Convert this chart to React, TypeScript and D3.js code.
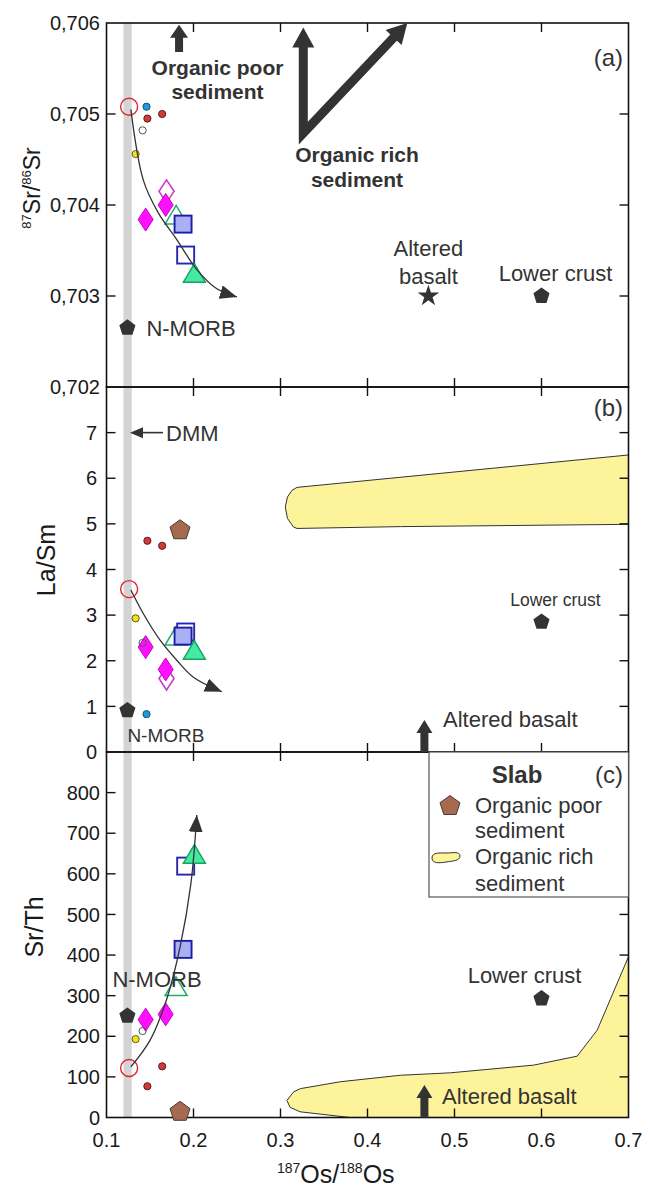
import { useEffect, useRef } from 'react';
import * as d3 from 'd3';

// ---- samples (same order in every array) ----
const sampleKinds = ['diamondOpen', 'diamond', 'diamond', 'triOpen', 'squareOpen', 'square', 'tri', 'dotRed', 'dotRed', 'dotBlue', 'dotYellow', 'dotOpen', 'circleRed'];
const sampleOs = [0.169, 0.168, 0.145, 0.180, 0.191, 0.188, 0.201, 0.147, 0.164, 0.146, 0.1335, 0.1415, 0.126];
const sampleSr = [0.70415, 0.7040, 0.70384, 0.70388, 0.70345, 0.70379, 0.70324, 0.70495, 0.7050, 0.70508, 0.70456, 0.70482, 0.70508];
const sampleLaSm = [1.61, 1.81, 2.30, 2.52, 2.63, 2.54, 2.21, 4.63, 4.52, 0.83, 2.93, 2.39, 3.57];
const sampleSrTh = [null, 254, 241, 320, 619, 414, 646, 77, 126, null, 193, 213, 122];

// ---- end-members ----
const endKinds = ['pentagon', 'pentagon', 'star', 'pentagonBrown'];
const endOs = [0.124, 0.6, 0.47, 0.1845];
const endSr = [0.70265, 0.703, 0.703, null];
const endLaSm = [0.91, 2.85, null, 4.86];
const endSrTh = [250, 293, null, 14];

// mixing trends
const trendA = [[0.128, 0.70505], [0.1424, 0.70427], [0.1597, 0.70391], [0.1808, 0.70362], [0.2038, 0.70329], [0.2268, 0.70308], [0.25, 0.70299]];
const trendB = [[0.128, 3.55], [0.1424, 3.03], [0.1616, 2.45], [0.1808, 2.01], [0.1999, 1.64], [0.2326, 1.32]];
const trendC = [[0.128, 125], [0.150, 190], [0.169, 290], [0.1846, 420], [0.197, 576], [0.2038, 745]];

// organic rich sediment fields
const richB = [[0.3055, 5.37], [0.308, 5.59], [0.3135, 5.74], [0.319, 5.80], [0.7, 6.51], [0.7, 4.99], [0.438, 4.94], [0.319, 4.90], [0.315, 4.93], [0.308, 5.12]];
const richC = [[0.3074, 42], [0.315, 63], [0.3227, 71], [0.3687, 88], [0.4377, 104], [0.4953, 110], [0.591, 129], [0.641, 151], [0.664, 215], [0.7, 396], [0.7, 0], [0.38, 0], [0.3227, 14], [0.311, 25]];

// DMM band
const dmmOs = [0.1195, 0.129];

// ticks
const xTicks = [0.1, 0.2, 0.3, 0.4, 0.5, 0.6, 0.7];
const srTicks = [0.702, 0.703, 0.704, 0.705, 0.706];
const srLabels = ['0,702', '0,703', '0,704', '0,705', '0,706'];
const laSmTicks = [0, 1, 2, 3, 4, 5, 6, 7, 8];
const laSmLabels = ['0', '1', '2', '3', '4', '5', '6', '7', ''];
const srThTicks = [0, 100, 200, 300, 400, 500, 600, 700, 800, 900];
const srThLabels = ['0', '100', '200', '300', '400', '500', '600', '700', '800', ''];

const FONT = '"Liberation Sans", Arial, Helvetica, sans-serif';
const INK = '#333';

const polyPath = (pts) => 'M' + pts.map(p => p[0].toFixed(2) + ',' + p[1].toFixed(2)).join('L') + 'Z';
const regular = (cx, cy, r, n) => d3.range(n).map(i => {
  const a = -Math.PI / 2 + i * 2 * Math.PI / n;
  return [cx + r * Math.cos(a), cy + r * Math.sin(a)];
});

function drawMarker(g, kind, cx, cy) {
  switch (kind) {
    case 'diamond':
    case 'diamondOpen': {
      const pts = [[cx, cy - 11.5], [cx + 7.5, cy], [cx, cy + 11.5], [cx - 7.5, cy]];
      g.append('path').attr('d', polyPath(pts))
        .attr('fill', kind === 'diamond' ? '#ff10ff' : '#fff')
        .attr('stroke', kind === 'diamond' ? '#c800c8' : '#c63cc6')
        .attr('stroke-width', kind === 'diamond' ? 1 : 1.6);
      break;
    }
    case 'tri':
    case 'triOpen': {
      const pts = [[cx, cy - 10.5], [cx + 11, cy + 8], [cx - 11, cy + 8]];
      g.append('path').attr('d', polyPath(pts))
        .attr('fill', kind === 'tri' ? '#46e8a2' : '#fff')
        .attr('stroke', kind === 'tri' ? '#16a463' : '#1fae6a')
        .attr('stroke-width', 1.5);
      break;
    }
    case 'square':
    case 'squareOpen':
      g.append('rect').attr('x', cx - 8.5).attr('y', cy - 8.5).attr('width', 17).attr('height', 17)
        .attr('fill', kind === 'square' ? '#aab0f6' : '#fff')
        .attr('stroke', kind === 'square' ? '#1c1ca6' : '#2626b0')
        .attr('stroke-width', 1.9);
      break;
    case 'dotRed':
    case 'dotBlue':
    case 'dotYellow':
    case 'dotOpen': {
      const fills = { dotRed: '#d3383a', dotBlue: '#1f9ad8', dotYellow: '#f4e318', dotOpen: 'none' };
      const strokes = { dotRed: '#5b1c1c', dotBlue: '#1d4f70', dotYellow: '#5a5a2a', dotOpen: '#555' };
      g.append('circle').attr('cx', cx).attr('cy', cy).attr('r', 3.6)
        .attr('fill', fills[kind]).attr('stroke', strokes[kind]).attr('stroke-width', 1);
      break;
    }
    case 'circleRed':
      g.append('circle').attr('cx', cx).attr('cy', cy).attr('r', 8.5)
        .attr('fill', 'none').attr('stroke', '#e02530').attr('stroke-width', 1.4);
      break;
    case 'pentagon':
      g.append('path').attr('d', polyPath(regular(cx, cy, 8.5, 5))).attr('fill', INK);
      break;
    case 'pentagonBrown':
      g.append('path').attr('d', polyPath(regular(cx, cy, 10.5, 5)))
        .attr('fill', '#a56a50').attr('stroke', '#4a3a35').attr('stroke-width', 1);
      break;
    case 'star':
      g.append('path').attr('d', d3.symbol(d3.symbolStar, 145)())
        .attr('transform', `translate(${cx},${cy})`).attr('fill', INK);
      break;
  }
}

// block arrow polygon from (x1,y1) to tip (x2,y2)
function blockArrow(x1, y1, x2, y2, sw, hw, hl) {
  const len = Math.hypot(x2 - x1, y2 - y1);
  const ux = (x2 - x1) / len, uy = (y2 - y1) / len;
  const nx = -uy, ny = ux;
  const bx = x2 - ux * hl, by = y2 - uy * hl;
  return polyPath([
    [x1 + nx * sw / 2, y1 + ny * sw / 2],
    [bx + nx * sw / 2, by + ny * sw / 2],
    [bx + nx * hw / 2, by + ny * hw / 2],
    [x2, y2],
    [bx - nx * hw / 2, by - ny * hw / 2],
    [bx - nx * sw / 2, by - ny * sw / 2],
    [x1 - nx * sw / 2, y1 - ny * sw / 2],
  ]);
}

function headOnly(x1, y1, x2, y2, hw, hl) {
  const len = Math.hypot(x2 - x1, y2 - y1);
  const ux = (x2 - x1) / len, uy = (y2 - y1) / len;
  const nx = -uy, ny = ux;
  const bx = x2 - ux * hl, by = y2 - uy * hl;
  return polyPath([[bx + nx * hw / 2, by + ny * hw / 2], [x2, y2], [bx - nx * hw / 2, by - ny * hw / 2]]);
}

export default function App() {
  const svgRef = useRef(null);

  useEffect(() => {
    const svg = d3.select(svgRef.current);
    svg.selectAll('*').remove();

    const left = 106.5, right = 628.5;
    const x = d3.scaleLinear().domain([0.1, 0.7]).range([left, right]);
    const yA = d3.scaleLinear().domain([0.702, 0.706]).range([387, 23]);
    const yB = d3.scaleLinear().domain([0, 8]).range([752, 387]);
    const yC = d3.scaleLinear().domain([0, 900]).range([1117.5, 752]);

    const panels = [
      { key: 'a', y: yA, ticks: srTicks, labels: srLabels, vals: sampleSr, ends: endSr, trend: trendA, labelX: 100 },
      { key: 'b', y: yB, ticks: laSmTicks, labels: laSmLabels, vals: sampleLaSm, ends: endLaSm, trend: trendB, labelX: 97 },
      { key: 'c', y: yC, ticks: srThTicks, labels: srThLabels, vals: sampleSrTh, ends: endSrTh, trend: trendC, labelX: 100 },
    ];

    const root = svg.append('g').style('font-family', FONT);
    const defs = svg.append('defs');
    defs.append('marker')
      .attr('id', 'trendHead')
      .attr('markerUnits', 'userSpaceOnUse')
      .attr('markerWidth', 18).attr('markerHeight', 14)
      .attr('refX', 17).attr('refY', 7)
      .attr('orient', 'auto')
      .append('path').attr('d', 'M0,0L17,7L0,14Z').attr('fill', INK);

    // DMM band across all panels
    root.append('rect')
      .attr('x', x(dmmOs[0])).attr('y', yA.range()[1])
      .attr('width', x(dmmOs[1]) - x(dmmOs[0]))
      .attr('height', yC.range()[0] - yA.range()[1])
      .attr('fill', '#d4d4d4');

    // organic rich sediment fields (clipped)
    const fieldLine = d3.line().x(d => x(d[0]));
    [[yB, richB, 'b'], [yC, richC, 'c']].forEach(([y, pts, key]) => {
      const [yb, yt] = y.range();
      defs.append('clipPath').attr('id', 'clip-' + key)
        .append('rect').attr('x', left).attr('y', yt).attr('width', right - left).attr('height', yb - yt);
      root.append('path')
        .attr('clip-path', `url(#clip-${key})`)
        .attr('d', fieldLine.y(d => y(d[1])).curve(d3.curveLinearClosed)(pts))
        .attr('fill', '#fdf39a').attr('stroke', INK).attr('stroke-width', 1);
    });

    // frames, ticks, tick labels
    panels.forEach(p => {
      const [yb, yt] = p.y.range();
      const fg = root.append('g');
      fg.append('rect').attr('x', left).attr('y', yt).attr('width', right - left).attr('height', yb - yt)
        .attr('fill', 'none').attr('stroke', '#111').attr('stroke-width', 1.6);
      const tl = 9;
      xTicks.slice(1, -1).forEach(v => {
        fg.append('line').attr('x1', x(v)).attr('x2', x(v)).attr('y1', yt).attr('y2', yt + tl).attr('stroke', '#111').attr('stroke-width', 1.4);
        fg.append('line').attr('x1', x(v)).attr('x2', x(v)).attr('y1', yb).attr('y2', yb - tl).attr('stroke', '#111').attr('stroke-width', 1.4);
      });
      p.ticks.slice(1, -1).forEach(v => {
        fg.append('line').attr('x1', left).attr('x2', left + tl).attr('y1', p.y(v)).attr('y2', p.y(v)).attr('stroke', '#111').attr('stroke-width', 1.4);
        fg.append('line').attr('x1', right).attr('x2', right - tl).attr('y1', p.y(v)).attr('y2', p.y(v)).attr('stroke', '#111').attr('stroke-width', 1.4);
      });
      p.ticks.forEach((v, i) => {
        if (!p.labels[i]) return;
        fg.append('text').attr('x', p.labelX).attr('y', p.y(v)).attr('dy', '0.36em')
          .attr('text-anchor', 'end').attr('font-size', 20).attr('fill', '#1a1a1a').text(p.labels[i]);
      });
    });

    // x tick labels
    xTicks.forEach(v => {
      root.append('text').attr('x', x(v)).attr('y', 1147).attr('text-anchor', 'middle')
        .attr('font-size', 20).attr('fill', '#1a1a1a').text(d3.format('.1f')(v));
    });

    // axis titles
    const xt = root.append('text').attr('x', 277).attr('y', 1183).attr('fill', '#1a1a1a');
    xt.append('tspan').attr('font-size', 14).attr('dy', -10).text('187');
    xt.append('tspan').attr('font-size', 25).attr('dy', 10).text('Os/');
    xt.append('tspan').attr('font-size', 14).attr('dy', -10).text('188');
    xt.append('tspan').attr('font-size', 25).attr('dy', 10).text('Os');

    const ya = root.append('text').attr('transform', 'translate(40,188) rotate(-90)').attr('text-anchor', 'middle').attr('fill', '#1a1a1a');
    ya.append('tspan').attr('font-size', 13).attr('dy', -9).text('87');
    ya.append('tspan').attr('font-size', 23).attr('dy', 9).text('Sr/');
    ya.append('tspan').attr('font-size', 13).attr('dy', -9).text('86');
    ya.append('tspan').attr('font-size', 23).attr('dy', 9).text('Sr');

    root.append('text').attr('transform', 'translate(55,560) rotate(-90)').attr('text-anchor', 'middle')
      .attr('font-size', 25).attr('fill', '#1a1a1a').text('La/Sm');
    root.append('text').attr('transform', 'translate(43,927) rotate(-90)').attr('text-anchor', 'middle')
      .attr('font-size', 25).attr('fill', '#1a1a1a').text('Sr/Th');

    // panel letters ((c) sits in the legend box)
    root.append('text').attr('x', 623).attr('y', 66).attr('text-anchor', 'end')
      .attr('font-size', 24).attr('fill', INK).text('(a)');
    root.append('text').attr('x', 623).attr('y', 416).attr('text-anchor', 'end')
      .attr('font-size', 24).attr('fill', INK).text('(b)');

    // end-members and samples
    panels.forEach(p => {
      const mg = root.append('g');
      endKinds.forEach((k, i) => {
        if (p.ends[i] == null) return;
        drawMarker(mg, k, x(endOs[i]), p.y(p.ends[i]));
      });
      sampleKinds.forEach((k, i) => {
        if (p.vals[i] == null) return;
        drawMarker(mg, k, x(sampleOs[i]), p.y(p.vals[i]));
      });
      // trend curve
      mg.append('path')
        .attr('d', d3.line().x(d => x(d[0])).y(d => p.y(d[1])).curve(d3.curveCatmullRom)(p.trend))
        .attr('fill', 'none').attr('stroke', INK).attr('stroke-width', 1.3)
        .attr('marker-end', 'url(#trendHead)');
    });

    const txt = (t, px, py, size, opts = {}) => root.append('text')
      .attr('x', px).attr('y', py).attr('font-size', size)
      .attr('text-anchor', opts.anchor || 'start')
      .attr('font-weight', opts.bold ? 'bold' : 'normal')
      .attr('fill', INK).text(t);

    // ---- panel (a) annotations ----
    const poorX = x(0.1834);
    root.append('path').attr('d', blockArrow(poorX, yA(0.70568), poorX, yA(0.70598), 8, 18, 13)).attr('fill', INK);
    txt('Organic poor', x(0.2276), yA(0.70543), 21, { anchor: 'middle', bold: true });
    txt('sediment', x(0.2276), yA(0.70517), 21, { anchor: 'middle', bold: true });

    const vx = x(0.3262), vy = yA(0.70479);
    const t1 = [x(0.3262), yA(0.70595)];
    const t2 = [x(0.4458), yA(0.706)];
    const base = (tip, hl) => {
      const len = Math.hypot(tip[0] - vx, tip[1] - vy);
      return [tip[0] - (tip[0] - vx) / len * hl, tip[1] - (tip[1] - vy) / len * hl];
    };
    const b1 = base(t1, 19), b2 = base(t2, 19);
    root.append('path').attr('d', `M${b1[0]},${b1[1]}L${vx},${vy}L${b2[0]},${b2[1]}`)
      .attr('fill', 'none').attr('stroke', INK).attr('stroke-width', 9).attr('stroke-linejoin', 'miter');
    root.append('path').attr('d', headOnly(vx, vy, t1[0], t1[1], 22, 20)).attr('fill', INK);
    root.append('path').attr('d', headOnly(vx, vy, t2[0], t2[1], 22, 20)).attr('fill', INK);
    txt('Organic rich', 357, yA(0.703) - 134, 21, { anchor: 'middle', bold: true });
    txt('sediment', 357, yA(0.703) - 109, 21, { anchor: 'middle', bold: true });

    txt('Altered', x(0.47), yA(0.703) - 40, 22, { anchor: 'middle' });
    txt('basalt', x(0.47), yA(0.703) - 12, 22, { anchor: 'middle' });
    txt('Lower crust', x(0.6) + 14, yA(0.703) - 15, 22, { anchor: 'middle' });
    txt('N-MORB', x(0.124) + 19, yA(0.70265) + 8, 22);

    // ---- panel (b) annotations ----
    const dmmTip = [x(0.127), yB(7)];
    root.append('line').attr('x1', dmmTip[0] + 10).attr('x2', 163).attr('y1', dmmTip[1]).attr('y2', dmmTip[1])
      .attr('stroke', INK).attr('stroke-width', 1.6);
    root.append('path').attr('d', headOnly(163, dmmTip[1], dmmTip[0], dmmTip[1], 11, 13)).attr('fill', INK);
    txt('DMM', 166, dmmTip[1] + 8, 22);
    txt('N-MORB', x(0.124), yB(0.91) + 32, 19);
    txt('Lower crust', x(0.6) + 14, yB(2.85) - 16, 17.5, { anchor: 'middle' });
    const abX = x(0.4654);
    root.append('path').attr('d', blockArrow(abX, yB(0), abX, yB(0.7), 8, 16, 13)).attr('fill', INK);
    txt('Altered basalt', 443, yB(0.7) + 7, 22);

    // ---- panel (c) annotations ----
    txt('N-MORB', x(0.124) - 15, yC(250) - 29, 22);
    txt('Lower crust', x(0.6) - 17, yC(293) - 16, 22, { anchor: 'middle' });
    root.append('path').attr('d', blockArrow(abX, yC(0), abX, yC(80), 8, 16, 13)).attr('fill', INK);
    txt('Altered basalt', 442, yC(80) + 19, 22);

    // legend
    const lg = root.append('g');
    lg.append('rect').attr('x', 429).attr('y', 752).attr('width', right - 429).attr('height', 145)
      .attr('fill', '#fff').attr('stroke', '#555').attr('stroke-width', 1.2);
    lg.append('text').attr('x', 517).attr('y', 783).attr('text-anchor', 'middle').attr('font-size', 24)
      .attr('font-weight', 'bold').attr('fill', INK).text('Slab');
    lg.append('text').attr('x', 623).attr('y', 783).attr('text-anchor', 'end').attr('font-size', 24)
      .attr('fill', INK).text('(c)');
    drawMarker(lg, 'pentagonBrown', 450, 806);
    lg.append('path')
      .attr('d', 'M432,858C432,852 440,853 446,853C452,853 460,851 460,856C460,861 452,861 446,862C440,863 432,864 432,858Z')
      .attr('fill', '#fdf39a').attr('stroke', INK).attr('stroke-width', 1);
    [['Organic poor', 813], ['sediment', 838], ['Organic rich', 864], ['sediment', 891]].forEach(([t, yy]) => {
      lg.append('text').attr('x', 475).attr('y', yy).attr('font-size', 22).attr('fill', INK).text(t);
    });
  }, []);

  return (
    <svg ref={svgRef} width={650} height={1187}
      style={{ position: 'absolute', left: 0, top: 0, background: '#fff' }} />
  );
}
